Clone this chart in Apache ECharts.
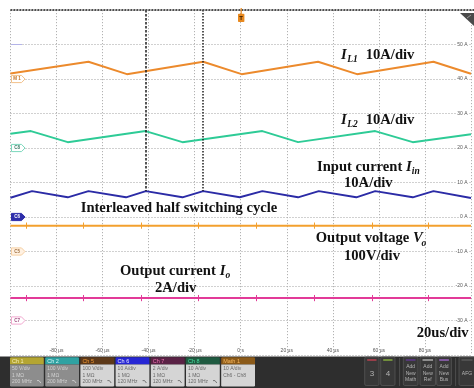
<!DOCTYPE html>
<html>
<head>
<meta charset="utf-8">
<script src="https://cdn.jsdelivr.net/npm/echarts/dist/echarts.min.js"></script>
<style>
  html, body { margin: 0; padding: 0; background: #ffffff; }
  #chart { width: 474px; height: 388px; }
</style>
</head>
<body>
<div id="chart"></div>
<script>
// Axis ticks: time in µs, vertical scale in A (10 divisions, -40 .. 60)
const timeTicks = [-80, -60, -40, -20, 0, 20, 40, 60, 80];
const currentTicks = [-30, -20, -10, 0, 10, 20, 30, 40, 50];

// Waveform vertices, [time µs, level on the A scale]
const iL1 = [[-100, 41.6], [-66.1, 45.0], [-49.4, 41.4], [-16.3, 45.0], [0.4, 41.4],
             [33.6, 45.0], [50.5, 41.4], [83.7, 45.0], [100, 41.5]];
const iL2 = [[-100, 24.1], [-91.1, 24.9], [-75.1, 21.7], [-41.3, 24.9], [-25.3, 21.7],
             [9.4, 24.9], [24.9, 21.7], [58.4, 24.9], [74.7, 21.7], [100, 24.0]];
const iIn = [[-100, 5.6], [-90.6, 7.5], [-75.1, 5.7], [-66.1, 7.5], [-49.8, 5.7],
             [-41.2, 7.5], [-25.3, 5.7], [-16.3, 7.5], [-0.4, 5.7], [9.4, 7.5],
             [24.9, 5.7], [33.9, 7.5], [50.2, 5.7], [58.4, 7.5], [74.7, 5.7],
             [83.7, 7.5], [100, 5.5]];
const vOut = [[-100, -2.5], [100, -2.5]];
const iOut = [[-100, -23.5], [100, -23.5]];
// switching spikes seen on the output traces
const spikeTimes = [-93.1, -68.2, -43.3, -18.5, 6.9, 31.8, 57.1, 81.5];
const spikeHalfHeight = 0.9;
// cursor pair spanning the interleaved half cycle
const cursorTimes = [-41.2, -16.3];
const cursorBottom = 7.5;

// channel offset markers on the left edge
const offsetLabels = ['M 1', 'C8', 'C6', 'C5', 'C7'];
const offsetLevels = [40, 20, 0, -10, -30];

// status bar content
const channelNames = ['Ch 1', 'Ch 2', 'Ch 5', 'Ch 6', 'Ch 7', 'Ch 8', 'Math 1'];
const channelSettings = [
  ['50 V/div', '1 MΩ', '200 MHz'],
  ['100 V/div', '1 MΩ', '200 MHz'],
  ['100 V/div', '1 MΩ', '200 MHz'],
  ['10 A/div', '1 MΩ', '120 MHz'],
  ['2 A/div', '1 MΩ', '120 MHz'],
  ['10 A/div', '1 MΩ', '120 MHz'],
  ['10 A/div', 'Ch6 - Ch8']
];
const buttonLabels = ['3', '4', 'Add\nNew\nMath', 'Add\nNew\nRef', 'Add\nNew\nBus', 'AFG'];

// ---- styles ----
const C = {
  iL1: '#ec8a2c', iL2: '#2ecb96', iIn: '#2b2ba6', vOut: '#f3a02e', iOut: '#e23a98',
  grid: '#b2b2b2'
};
const markerStyles = [
  { fill: '#ffffff', stroke: '#f2c089', text: '#c07020' },
  { fill: '#ffffff', stroke: '#7ad8bc', text: '#3a7a66' },
  { fill: '#2e2eaa', stroke: '#2e2eaa', text: '#ffffff' },
  { fill: '#fff1e2', stroke: '#f6cfa2', text: '#a07040' },
  { fill: '#ffffff', stroke: '#f2a8cf', text: '#a05080' }
];
const channelStyles = [
  { head: '#b4a532', headText: '#f6efb8', body: '#8d8d8d', bodyText: '#d2d2d2' },
  { head: '#2fa2a2', headText: '#d6f6f6', body: '#8d8d8d', bodyText: '#d2d2d2' },
  { head: '#5d3919', headText: '#f39a35', body: '#d5d5d5', bodyText: '#6a6a6a' },
  { head: '#2626d4', headText: '#eaeaff', body: '#d5d5d5', bodyText: '#6a6a6a' },
  { head: '#5a2245', headText: '#f072b2', body: '#d5d5d5', bodyText: '#6a6a6a' },
  { head: '#1f5a40', headText: '#4ae0a2', body: '#d5d5d5', bodyText: '#6a6a6a' },
  { head: '#8b5a19', headText: '#f8b860', body: '#d5d5d5', bodyText: '#6a6a6a' }
];
const buttonBars = ['#d84455', '#98c840', '#6a3aa0', '#c8c8c8', '#b070e0', '#626262'];
const buttonX = [364.7, 380.7, 403.3, 420, 436.7, 459];
const buttonW = [14.3, 14.3, 14.7, 15.5, 14.7, 16];

const SERIF = '"Liberation Serif", "Times New Roman", serif';
const SANS = '"Liberation Sans", Arial, sans-serif';

function spikeLines(level, color) {
  return {
    silent: true, symbol: 'none', label: { show: false },
    lineStyle: { color: color, width: 1, type: 'solid' },
    data: spikeTimes.map(t => [{ coord: [t, level + spikeHalfHeight] }, { coord: [t, level - spikeHalfHeight] }])
  };
}

function trace(name, data, color, extra) {
  return Object.assign({
    name: name, type: 'line', data: data, symbol: 'none', animation: false,
    lineStyle: { color: color, width: 2 }, z: 3
  }, extra || {});
}

const option = {
  animation: false,
  backgroundColor: '#ffffff',
  grid: { left: 10.4, top: 10, width: 466.2, height: 345 },
  xAxis: {
    type: 'value', min: -100, max: 100, interval: 20,
    axisLine: { show: false }, axisTick: { show: false },
    splitLine: { show: true, lineStyle: { color: C.grid, width: 1, type: [1.2, 1.8] } },
    axisLabel: {
      inside: true, margin: 2, fontSize: 5, color: '#555555', fontFamily: SANS,
      formatter: v => timeTicks.includes(v) ? (v === 0 ? '0 s' : v + ' µs') : ''
    }
  },
  yAxis: {
    type: 'value', min: -40, max: 60, interval: 10, position: 'right',
    axisLine: { show: false }, axisTick: { show: false },
    splitLine: { show: true, lineStyle: { color: C.grid, width: 1, type: [1.2, 1.8] } },
    axisLabel: {
      inside: true, margin: 2.5, fontSize: 5, color: '#555555', fontFamily: SANS,
      backgroundColor: '#ffffff', padding: [0, 1],
      formatter: v => currentTicks.includes(v) ? v + ' A' : ''
    }
  },
  series: [
    trace('iL1', iL1, C.iL1),
    trace('iL2', iL2, C.iL2),
    trace('iIn', iIn, C.iIn, {
      markLine: {
        silent: true, symbol: 'none', label: { show: false },
        data: cursorTimes.map((t, i) => [
          { coord: [t, 60], lineStyle: { color: '#1e1e1e', width: 1.5, type: i === 0 ? [2.5, 1.5] : [1.5, 1.5] } },
          { coord: [t, cursorBottom] }
        ])
      }
    }),
    trace('vOut', vOut, C.vOut, { markLine: spikeLines(vOut[0][1], C.vOut) }),
    trace('iOut', iOut, C.iOut, { markLine: spikeLines(iOut[0][1], C.iOut) })
  ]
};

const chart = echarts.init(document.getElementById('chart'), null, { renderer: 'canvas' });
chart.setOption(option);
const px = (t, v) => chart.convertToPixel({ gridIndex: 0 }, [t, v]);

function txt(x, y, s, font, fill, align) {
  return {
    type: 'text', z: 20, silent: true,
    style: { x: x, y: y, text: s, font: font, fill: fill,
             align: align || 'left', verticalAlign: 'middle',
             textAlign: align || 'left', textVerticalAlign: 'middle' }
  };
}

const g = [];

// top frame edge
g.push({ type: 'line', z: 15, silent: true,
  shape: { x1: 10.4, y1: 10, x2: 474, y2: 10 },
  style: { stroke: '#4e4e4e', lineWidth: 2, lineDash: [2, 1] } });
g.push({ type: 'line', z: 15, silent: true,
  shape: { x1: 11, y1: px(-100, 50)[1], x2: 22, y2: px(-100, 50)[1] },
  style: { stroke: '#b4b4e8', lineWidth: 1 } });

// trigger marker at t = 0
const tx = px(0, 60)[0] + 0.5;
g.push({ type: 'line', z: 16, silent: true, shape: { x1: tx, y1: 8, x2: tx, y2: 14 },
  style: { stroke: '#e8891f', lineWidth: 1.2 } });
g.push({ type: 'rect', z: 16, silent: true, shape: { x: tx - 3.2, y: 13.8, width: 6.4, height: 8.2, r: 0.8 },
  style: { fill: '#e8891f' } });
g.push(txt(tx, 18, 'T', 'bold 6px ' + SANS, '#3a2000', 'center'));

// corner tab, top right
g.push({ type: 'polygon', z: 16, silent: true, shape: { points: [[460, 13], [474, 13], [474, 26]] },
  style: { fill: '#4a4a4a' } });
g.push({ type: 'line', z: 17, silent: true, shape: { x1: 467, y1: 18, x2: 471, y2: 15 },
  style: { stroke: '#9a9a9a', lineWidth: 1 } });

// channel offset markers
offsetLabels.forEach((lab, i) => {
  const y = px(-100, offsetLevels[i])[1];
  const x0 = 11.5;
  const s = markerStyles[i];
  g.push({ type: 'polygon', z: 16, silent: true,
    shape: { points: [[x0, y - 3.6], [x0 + 10, y - 3.6], [x0 + 13.5, y], [x0 + 10, y + 3.6], [x0, y + 3.6]] },
    style: { fill: s.fill, stroke: s.stroke, lineWidth: 1 } });
  g.push(txt(x0 + 5.6, y + 0.2, lab, 'bold 4.5px ' + SANS, s.text, 'center'));
});

// annotations
const F = 'bold 14.6px ' + SERIF;
const FI = 'italic bold 14.6px ' + SERIF;
const FS = 'italic bold 9.5px ' + SERIF;
const ink = '#111111';
const mid = 4.9;
// I_L1
g.push(txt(341, 60 - mid, 'I', FI, ink));
g.push(txt(347.2, 63 - 3.2, 'L1', FS, ink));
g.push(txt(365.7, 60 - mid, '10A/div', F, ink));
// I_L2
g.push(txt(341, 125 - mid, 'I', FI, ink));
g.push(txt(347.2, 128 - 3.2, 'L2', FS, ink));
g.push(txt(365.7, 125 - mid, '10A/div', F, ink));
// input current
g.push(txt(317, 171.7 - mid, 'Input current ', F, ink));
g.push(txt(406, 171.7 - mid, 'I', FI, ink));
g.push(txt(411.8, 174.7 - 3.2, 'in', FS, ink));
g.push(txt(344, 188.5 - mid, '10A/div', F, ink));
// half cycle
g.push(txt(80.7, 212.7 - mid, 'Interleaved half switching cycle', F, ink));
// output voltage
g.push(txt(315.7, 243.3 - mid, 'Output voltage ', F, ink));
g.push(txt(413, 243.3 - mid, 'V', FI, ink));
g.push(txt(421.6, 246.3 - 3.2, 'o', FS, ink));
g.push(txt(344, 261 - mid, '100V/div', F, ink));
// output current
g.push(txt(120, 276 - mid, 'Output current ', F, ink));
g.push(txt(219.8, 276 - mid, 'I', FI, ink));
g.push(txt(225.6, 279 - 3.2, 'o', FS, ink));
g.push(txt(155, 293.3 - mid, '2A/div', F, ink));
// time base
g.push(txt(416.7, 338.3 - mid, '20us/div', F, ink));

// status bar
g.push({ type: 'rect', z: 18, silent: true, shape: { x: 0, y: 356.5, width: 474, height: 32 },
  style: { fill: '#2e2e2e' } });
channelNames.forEach((name, i) => {
  const x = 10 + i * 35.2;
  const s = channelStyles[i];
  g.push({ type: 'rect', z: 19, silent: true, shape: { x: x, y: 357.3, width: 33.8, height: 7.2, r: [1.2, 1.2, 0, 0] },
    style: { fill: s.head } });
  g.push({ type: 'rect', z: 19, silent: true, shape: { x: x, y: 364.5, width: 33.8, height: 22, r: [0, 0, 1.2, 1.2] },
    style: { fill: s.body } });
  g.push(txt(x + 2, 361, name, '5.5px ' + SANS, s.headText));
  channelSettings[i].forEach((line, j) => {
    g.push(txt(x + 2, 368.6 + j * 6.6, line, '5px ' + SANS, s.bodyText));
  });
  if (channelSettings[i].length === 3) {
    const bx = x + 29, by = 381.8;
    g.push({ type: 'polyline', z: 21, silent: true,
      shape: { points: [[bx - 2, by - 1.2], [bx, by - 1.2], [bx + 1.8, by + 1.2]] },
      style: { stroke: s.bodyText, lineWidth: 0.9, fill: null } });
  }
});
buttonLabels.forEach((lab, i) => {
  const x = buttonX[i], w = buttonW[i];
  g.push({ type: 'rect', z: 19, silent: true, shape: { x: x, y: 357, width: w, height: 28.5, r: 1.5 },
    style: { fill: '#383838', stroke: '#555555', lineWidth: 0.8 } });
  g.push({ type: 'line', z: 20, silent: true, shape: { x1: x + 2.5, y1: 360, x2: x + w - 2.5, y2: 360 },
    style: { stroke: buttonBars[i], lineWidth: 1.2 } });
  const big = lab.length === 1;
  const el = txt(x + w / 2, 373.3, lab, (big ? '8px ' : '5px ') + SANS, '#b4b4b4', 'center');
  el.style.lineHeight = 6.6;
  g.push(el);
});
[399.6, 455.6].forEach(x => {
  g.push({ type: 'line', z: 19, silent: true, shape: { x1: x, y1: 358, x2: x, y2: 386 },
    style: { stroke: '#555555', lineWidth: 0.8 } });
});

chart.setOption({ graphic: g });
</script>
</body>
</html>
